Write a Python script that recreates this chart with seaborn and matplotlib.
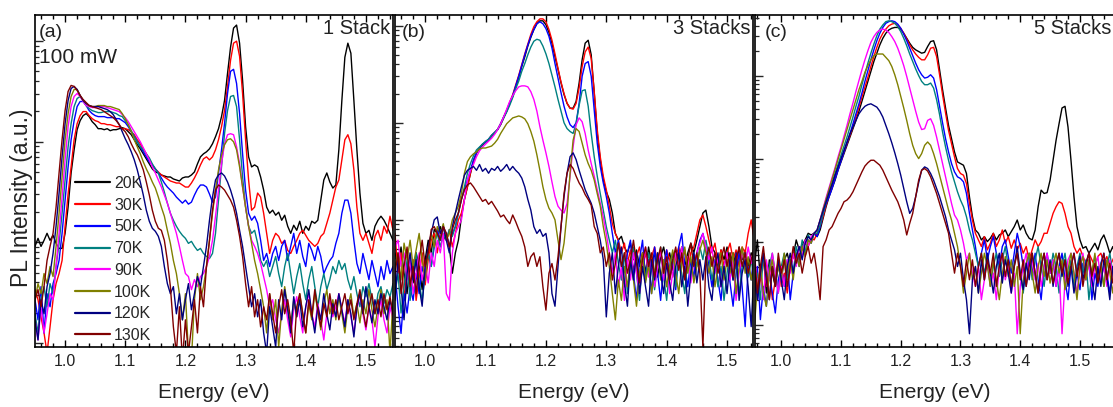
import numpy as np
import pandas as pd
import matplotlib
matplotlib.use("Agg")
import matplotlib.pyplot as plt
from matplotlib.ticker import LogLocator, NullFormatter, MultipleLocator, FormatStrFormatter
from matplotlib.lines import Line2D
import seaborn as sns

# photon energy grid (eV), shared by all spectra
energy = np.round(0.95 + 0.005 * np.arange(123), 3)

temps = ["20K", "30K", "50K", "70K", "90K", "100K", "120K", "130K"]
colors = ["#000000", "#ff0000", "#0000ff", "#008080", "#ff00ff", "#808000", "#000080", "#800000"]

# log10 PL intensity (a.u.) -- 1 stack
a_20K = [1.00,1.08,1.00,1.06,1.13,1.06,1.11,1.03,0.98,0.98,
         1.13,1.39,1.73,1.96,2.16,2.25,2.30,2.32,2.29,2.24,
         2.21,2.17,2.17,2.16,2.17,2.15,2.16,2.16,2.17,2.18,
         2.17,2.14,2.11,2.06,2.01,1.97,1.92,1.87,1.82,1.77,
         1.74,1.73,1.71,1.70,1.69,1.69,1.67,1.66,1.65,1.68,
         1.69,1.69,1.71,1.74,1.82,1.89,1.92,1.94,1.97,2.02,
         2.09,2.17,2.29,2.45,2.72,2.98,3.17,3.20,3.02,2.65,
         2.19,1.89,1.79,1.81,1.79,1.69,1.56,1.39,1.33,1.36,
         1.31,1.34,1.26,1.31,1.20,1.13,1.21,1.16,1.25,1.13,
         1.20,1.16,1.25,1.23,1.26,1.46,1.66,1.73,1.64,1.58,
         1.61,1.96,2.45,2.88,3.02,2.92,2.45,1.96,1.53,1.23,
         1.13,1.16,1.06,1.20,1.26,1.30,1.26,1.20,1.13,1.06,
         1.03,1.00,1.06]
a_30K = [0.57,0.47,0.30,0.14,-0.06,0.20,0.47,0.63,0.73,0.86,
         1.20,1.52,1.79,2.06,2.22,2.30,2.34,2.34,2.30,2.27,
         2.25,2.24,2.22,2.22,2.21,2.21,2.20,2.19,2.19,2.17,
         2.17,2.16,2.14,2.11,2.06,2.02,1.97,1.92,1.86,1.81,
         1.77,1.74,1.71,1.69,1.67,1.65,1.64,1.63,1.63,1.61,
         1.59,1.59,1.63,1.68,1.74,1.81,1.87,1.89,1.86,1.89,
         1.96,2.06,2.19,2.35,2.59,2.85,3.02,3.04,2.89,2.52,
         2.06,1.66,1.36,1.39,1.53,1.49,1.33,1.13,0.93,1.06,
         1.13,1.10,1.03,1.06,0.96,0.93,1.00,1.06,1.13,1.16,
         1.11,1.06,1.03,1.00,1.03,1.10,1.13,1.23,1.33,1.46,
         1.59,1.66,1.86,2.06,2.11,2.02,1.76,1.39,1.13,1.06,
         1.13,1.03,0.93,1.10,1.16,1.06,1.20,1.13,1.30,1.16,
         1.23,1.13,1.16]
a_50K = [0.47,0.27,0.60,0.14,0.53,0.40,0.63,0.73,0.86,1.13,
         1.46,1.79,2.06,2.25,2.39,2.44,2.44,2.40,2.35,2.32,
         2.30,2.29,2.29,2.29,2.28,2.28,2.28,2.27,2.27,2.25,
         2.23,2.19,2.14,2.09,2.04,1.99,1.94,1.89,1.84,1.81,
         1.77,1.73,1.68,1.63,1.59,1.56,1.53,1.49,1.46,1.43,
         1.46,1.42,1.44,1.51,1.57,1.61,1.61,1.59,1.52,1.44,
         1.49,1.73,1.96,2.22,2.52,2.74,2.76,2.62,2.32,1.92,
         1.56,1.33,1.26,1.30,1.23,1.06,0.86,0.93,0.80,0.93,
         1.00,0.86,1.00,1.06,0.86,1.00,1.13,0.93,1.06,0.90,
         0.80,1.03,0.96,0.86,1.00,0.90,0.73,0.80,0.86,0.90,
         1.03,1.13,1.33,1.46,1.46,1.33,1.06,0.83,0.73,0.93,
         0.80,0.67,0.86,0.73,0.60,0.80,0.67,0.86,0.73,0.80,
         0.67,0.83,0.73]
a_70K = [0.33,0.14,0.47,0.60,0.40,0.63,0.53,0.80,1.03,1.33,
         1.66,1.99,2.22,2.39,2.47,2.49,2.45,2.40,2.37,2.35,
         2.34,2.33,2.33,2.34,2.34,2.34,2.33,2.32,2.30,2.29,
         2.25,2.21,2.15,2.09,2.04,1.99,1.96,1.92,1.88,1.82,
         1.77,1.73,1.64,1.54,1.43,1.33,1.26,1.20,1.15,1.11,
         1.08,1.03,1.05,1.00,0.96,0.98,0.93,0.90,0.88,0.93,
         1.13,1.46,1.79,2.12,2.35,2.49,2.50,2.39,2.06,1.69,
         1.39,1.20,1.13,1.16,1.03,0.86,0.80,0.86,0.70,0.80,
         0.90,0.73,0.60,0.80,0.93,0.73,0.53,0.70,0.83,0.63,
         0.47,0.67,0.80,0.60,0.40,0.60,0.73,0.57,0.67,0.80,
         0.73,0.86,0.77,0.83,0.67,0.57,0.70,0.53,0.40,0.60,
         0.50,0.63,0.47,0.33,0.53,0.60,0.43,0.57,0.50,0.63,
         0.53,0.60,0.47]
a_90K = [0.27,0.07,0.40,0.14,0.33,0.53,0.47,0.80,1.13,1.49,
         1.86,2.19,2.39,2.49,2.52,2.49,2.44,2.40,2.39,2.38,
         2.38,2.39,2.39,2.39,2.38,2.37,2.36,2.35,2.34,2.31,
         2.28,2.24,2.19,2.14,2.09,2.04,1.98,1.92,1.86,1.79,
         1.73,1.66,1.59,1.51,1.43,1.33,1.23,1.13,1.00,0.86,
         0.73,0.70,0.57,0.67,0.60,0.70,0.73,0.80,0.90,1.06,
         1.30,1.56,1.82,2.02,2.11,2.12,2.11,1.99,1.82,1.59,
         1.39,1.20,1.06,1.00,0.93,0.83,0.70,0.57,0.40,0.47,
         0.27,0.14,0.33,0.47,0.27,0.10,0.37,0.50,0.30,0.14,
         0.40,0.53,0.33,0.20,0.43,0.27,0.07,0.33,0.47,0.30,
         0.40,0.53,0.37,0.24,0.47,0.30,0.14,0.37,0.53,0.33,
         0.17,0.40,0.27,0.00,0.30,0.47,0.27,0.14,0.40,0.27,
         0.33,0.47,0.20]
a_100K = [0.47,0.63,0.53,0.73,0.63,0.80,0.70,1.00,1.33,1.69,
          2.06,2.32,2.49,2.56,2.56,2.50,2.45,2.42,2.40,2.39,
          2.39,2.40,2.40,2.40,2.39,2.39,2.38,2.37,2.36,2.32,
          2.27,2.21,2.14,2.06,1.99,1.92,1.84,1.77,1.71,1.64,
          1.58,1.49,1.39,1.30,1.16,1.03,0.86,0.73,0.53,0.27,
          0.53,-0.06,-0.13,0.47,0.73,0.47,0.60,0.80,1.06,1.33,
          1.56,1.76,1.91,2.01,2.06,2.07,2.04,1.96,1.79,1.59,
          1.39,1.20,1.03,0.86,0.73,0.57,0.40,0.14,0.53,0.27,
          0.47,0.00,0.37,0.60,0.40,0.20,0.47,0.30,0.53,0.33,
          0.14,0.43,0.27,0.53,0.37,0.17,0.43,0.57,0.33,0.47,
          0.27,0.50,0.33,0.14,0.40,0.53,0.30,0.43,0.24,0.47,
          0.33,0.57,0.37,0.20,0.40,0.57,0.33,0.47,-0.06,0.47,
          0.33,0.53,0.40]
a_120K = [0.27,0.07,0.47,0.33,0.60,0.73,0.93,1.20,1.53,1.89,
          2.22,2.45,2.57,2.59,2.56,2.50,2.45,2.42,2.40,2.39,
          2.39,2.39,2.38,2.37,2.36,2.34,2.31,2.26,2.21,2.14,
          2.07,2.01,1.94,1.86,1.76,1.64,1.51,1.36,1.25,1.18,
          1.15,1.10,1.00,0.80,0.63,0.53,0.60,0.33,0.53,0.27,
          0.47,0.63,0.37,0.53,0.70,0.60,0.80,1.00,1.26,1.49,
          1.66,1.71,1.73,1.70,1.64,1.56,1.46,1.33,1.16,1.00,
          0.80,0.60,0.40,0.53,0.30,0.47,0.14,-0.06,0.40,0.20,
          0.00,0.47,0.27,0.57,0.37,0.14,0.50,0.30,0.47,0.20,
          0.40,0.57,0.33,0.14,0.40,0.27,0.53,0.33,0.17,0.43,
          0.30,0.53,0.37,0.20,0.47,0.33,0.10,0.40,0.53,0.33,
          0.60,0.40,0.24,0.47,0.33,0.53,0.40,0.27,0.47,0.33,
          0.47,0.30,0.40]
a_130K = [0.47,0.57,0.40,0.60,0.86,1.00,1.13,1.39,1.73,2.06,
          2.35,2.54,2.60,2.59,2.55,2.50,2.46,2.43,2.40,2.39,
          2.38,2.37,2.36,2.34,2.32,2.30,2.28,2.25,2.21,2.17,
          2.14,2.09,2.02,1.96,1.91,1.84,1.76,1.64,1.51,1.36,
          1.25,1.18,1.16,1.06,0.86,0.60,0.20,-0.06,0.40,-0.13,
          0.27,-0.06,0.20,0.47,0.14,0.60,0.40,0.80,1.06,1.36,
          1.56,1.61,1.59,1.56,1.51,1.46,1.39,1.26,1.10,0.90,
          0.63,0.40,0.60,0.30,0.47,0.20,0.40,0.27,0.53,0.33,
          0.14,0.40,0.57,0.33,0.47,0.27,-0.06,0.40,0.53,0.33,
          0.14,0.47,0.30,0.57,0.37,0.20,0.43,0.30,0.53,0.33,
          0.47,0.27,0.40,0.53,0.33,0.47,0.27,0.43,0.57,0.37,
          0.20,0.40,0.53,0.33,0.47,0.30,0.53,0.37,0.50,0.33,
          0.43,0.30,0.47]

# log10 PL intensity (a.u.) -- 3 stacks
b_20K = [0.97,0.83,1.03,0.76,0.55,0.86,0.66,0.97,0.83,0.59,
         0.90,1.10,0.97,1.21,1.17,1.24,1.10,1.17,1.03,0.76,
         0.97,1.10,1.34,1.52,1.65,1.79,1.91,2.00,2.05,2.08,
         2.11,2.13,2.17,2.20,2.24,2.29,2.36,2.43,2.51,2.58,
         2.68,2.78,2.89,2.99,3.10,3.19,3.27,3.33,3.36,3.36,
         3.32,3.24,3.13,2.99,2.86,2.72,2.60,2.51,2.46,2.46,
         2.53,2.72,2.96,3.13,3.16,3.01,2.62,2.20,1.93,1.72,
         1.60,1.52,1.38,1.17,1.10,1.14,1.03,0.97,1.07,0.90,
         1.00,0.83,0.97,0.76,1.03,0.86,0.97,0.72,0.93,1.03,
         0.86,0.97,0.79,1.00,0.90,1.03,0.83,0.97,1.07,0.97,
         1.10,1.24,1.38,1.41,1.24,1.03,0.97,0.83,1.00,0.90,
         1.03,0.86,0.97,0.83,1.03,0.90,1.00,0.83,0.97,0.90,
         1.03,0.86,0.97]
b_30K = [1.17,0.76,0.97,0.48,0.83,0.64,0.90,0.48,0.72,0.97,
         0.64,0.90,1.10,1.17,0.97,1.17,1.24,1.10,1.21,1.03,
         1.17,1.31,1.38,1.52,1.65,1.79,1.91,2.00,2.05,2.09,
         2.11,2.14,2.18,2.21,2.24,2.30,2.37,2.44,2.52,2.60,
         2.70,2.80,2.91,3.02,3.12,3.22,3.30,3.35,3.38,3.38,
         3.35,3.27,3.16,3.02,2.87,2.73,2.61,2.51,2.46,2.45,
         2.51,2.67,2.89,3.04,3.09,2.97,2.63,2.24,1.96,1.76,
         1.62,1.45,1.27,1.17,1.10,0.97,1.07,0.86,1.00,0.79,
         0.93,1.03,0.83,0.97,0.76,0.93,1.03,0.86,0.97,0.83,
         1.00,0.90,0.72,0.93,1.03,0.86,1.00,0.79,0.97,1.03,
         1.17,1.31,1.36,1.24,1.10,0.97,1.07,0.86,1.00,0.83,
         0.97,1.07,0.90,1.00,0.83,1.03,0.97,1.17,1.31,1.10,
         1.24,1.03,1.17]
b_50K = [0.76,0.42,0.14,0.55,0.35,0.62,0.48,0.76,0.55,0.83,
         0.69,0.97,0.83,1.03,1.21,1.10,1.24,1.17,1.03,1.17,
         1.24,1.38,1.52,1.62,1.72,1.82,1.93,2.00,2.05,2.09,
         2.11,2.14,2.18,2.21,2.24,2.30,2.37,2.43,2.51,2.59,
         2.69,2.79,2.90,3.01,3.11,3.20,3.27,3.33,3.35,3.33,
         3.28,3.20,3.08,2.92,2.77,2.62,2.48,2.37,2.29,2.26,
         2.31,2.51,2.79,2.92,2.94,2.79,2.44,2.10,1.86,1.69,
         1.55,1.38,1.17,0.97,1.10,0.83,0.62,0.97,1.10,0.76,
         0.48,0.90,1.10,0.69,0.90,0.55,1.03,0.76,0.48,0.83,
         1.00,0.69,0.90,0.59,1.03,1.17,0.83,0.62,0.90,0.72,
         0.97,1.10,1.17,1.03,0.83,0.62,0.90,0.69,0.48,0.83,
         0.97,0.66,0.42,0.76,0.97,0.62,0.21,0.83,0.69,0.97,
         0.76,0.55,0.83]
b_70K = [0.55,0.76,0.35,0.62,0.90,0.48,0.76,0.97,0.66,0.48,
         0.76,0.97,0.83,1.07,1.17,1.03,1.17,1.10,1.21,1.14,
         1.24,1.38,1.52,1.65,1.79,1.89,1.97,2.03,2.06,2.09,
         2.12,2.14,2.18,2.21,2.24,2.30,2.36,2.42,2.49,2.57,
         2.66,2.74,2.84,2.92,3.01,3.09,3.15,3.17,3.16,3.10,
         3.02,2.92,2.80,2.68,2.55,2.43,2.31,2.25,2.22,2.20,
         2.30,2.49,2.64,2.65,2.48,2.20,1.96,1.76,1.58,1.41,
         1.24,1.10,0.97,1.10,0.86,0.69,0.97,0.55,0.83,1.03,
         0.76,0.48,0.90,0.69,0.97,0.79,0.59,0.86,1.03,0.72,
         0.48,0.83,0.97,0.62,0.90,0.76,0.55,0.93,0.72,0.97,
         0.83,1.03,0.90,1.10,0.93,0.69,0.86,0.62,0.83,0.48,
         0.76,0.97,0.69,0.86,0.55,0.83,0.97,0.72,0.90,0.69,
         0.83,0.97,0.76]
b_90K = [1.03,1.10,0.83,0.97,0.69,0.90,0.55,0.76,0.97,0.69,
         0.86,0.66,0.97,0.83,1.10,0.97,1.17,0.55,0.48,0.97,
         1.17,1.24,1.31,1.52,1.72,1.82,1.88,1.96,2.02,2.06,
         2.09,2.12,2.15,2.19,2.24,2.30,2.37,2.45,2.53,2.59,
         2.64,2.68,2.69,2.69,2.68,2.63,2.55,2.43,2.27,2.13,
         2.00,1.86,1.70,1.55,1.45,1.41,1.38,1.48,1.76,2.06,
         2.29,2.36,2.32,2.20,2.03,1.89,1.76,1.62,1.48,1.34,
         1.17,0.97,0.76,0.97,0.62,0.83,0.48,0.90,0.69,0.97,
         0.76,0.55,0.86,1.03,0.72,0.90,0.62,0.83,1.00,0.69,
         0.90,0.55,0.76,0.97,0.83,1.03,0.72,0.93,0.66,0.86,
         0.97,1.07,1.17,1.03,0.90,1.03,0.76,0.93,0.62,0.83,
         0.97,0.69,0.90,0.48,0.76,0.97,0.83,1.03,0.86,0.97,
         0.76,0.90,0.69]
b_100K = [0.83,0.97,0.69,1.07,0.90,1.10,0.83,1.00,1.17,0.90,
          0.69,0.97,1.17,1.03,1.24,1.17,1.27,1.10,1.17,1.31,
          1.38,1.45,1.58,1.79,1.91,1.96,1.99,2.01,2.04,2.05,
          2.05,2.06,2.07,2.10,2.14,2.20,2.25,2.30,2.33,2.36,
          2.37,2.38,2.37,2.35,2.30,2.22,2.12,1.98,1.82,1.65,
          1.52,1.43,1.38,1.31,1.10,0.90,1.07,1.38,1.79,2.13,
          2.25,2.22,2.10,1.98,1.89,1.82,1.72,1.58,1.45,1.24,
          1.07,0.83,0.55,0.28,0.69,0.48,0.83,0.62,0.90,0.69,
          0.42,0.76,0.97,0.66,0.86,0.55,0.79,0.97,0.69,0.90,
          0.62,0.83,1.00,0.76,0.55,0.86,1.03,0.76,0.93,0.66,
          0.83,1.00,1.10,0.97,0.76,0.93,0.62,0.83,0.97,0.69,
          0.90,0.76,0.97,0.55,0.83,1.03,0.76,0.93,0.69,0.86,
          0.97,0.79,0.90]
b_120K = [0.48,0.90,0.62,0.28,0.76,0.97,0.69,0.90,0.62,0.42,
          0.83,1.03,1.17,1.31,1.34,1.17,1.24,1.10,0.97,1.24,
          1.38,1.52,1.65,1.77,1.82,1.84,1.86,1.82,1.88,1.81,
          1.84,1.79,1.84,1.82,1.86,1.81,1.84,1.88,1.82,1.86,
          1.82,1.79,1.74,1.65,1.52,1.41,1.24,1.17,1.21,1.14,
          1.17,0.97,0.55,0.42,0.83,1.24,1.55,1.79,1.96,2.00,
          1.93,1.82,1.72,1.62,1.55,1.48,1.38,1.24,1.10,0.90,
          0.31,0.76,0.97,0.55,0.83,1.03,0.66,0.42,0.90,0.69,
          0.97,0.55,0.83,0.62,0.42,0.90,0.69,0.97,0.76,0.55,
          0.86,0.66,0.48,0.83,0.97,0.62,0.83,0.42,0.76,0.97,
          0.66,0.90,0.69,0.93,0.62,0.48,0.83,0.97,0.62,0.83,
          0.55,0.90,0.69,0.97,0.48,0.76,0.90,0.62,0.21,0.83,
          0.62,0.90,0.69]
b_130K = [0.76,0.97,0.55,0.83,1.03,0.62,0.83,0.55,0.90,1.10,
          0.83,0.97,1.21,1.24,1.17,1.10,1.24,1.17,1.03,1.21,
          1.31,1.38,1.52,1.62,1.67,1.69,1.65,1.60,1.55,1.50,
          1.52,1.47,1.50,1.45,1.40,1.34,1.36,1.31,1.27,1.36,
          1.29,1.21,1.14,1.03,0.83,0.93,0.97,0.83,0.93,0.62,
          0.38,0.76,0.86,0.69,0.93,1.24,1.58,1.79,1.88,1.84,
          1.76,1.69,1.64,1.57,1.52,1.46,1.24,1.17,0.97,1.03,
          0.83,0.97,0.69,0.86,1.07,0.83,0.97,0.76,0.90,1.10,
          0.86,0.66,0.90,1.03,0.83,0.97,0.72,0.90,1.03,0.76,
          0.93,0.69,0.90,1.03,0.79,0.97,0.69,0.90,1.07,0.83,
          0.97,0.76,0.00,0.90,1.03,0.83,0.97,0.76,0.90,1.03,
          0.83,0.97,0.72,0.90,1.03,0.83,0.97,0.76,0.90,1.03,
          0.83,0.97,0.76]

# log10 PL intensity (a.u.) -- 5 stacks
c_20K = [1.13,0.97,1.29,0.81,1.13,0.65,1.05,0.89,0.73,1.01,
         0.81,1.05,1.13,0.97,1.09,1.29,1.17,1.23,1.29,1.37,
         1.35,1.37,1.33,1.41,1.55,1.69,1.81,1.91,2.01,2.13,
         2.23,2.33,2.43,2.53,2.63,2.73,2.84,2.96,3.08,3.20,
         3.32,3.44,3.54,3.64,3.72,3.78,3.82,3.84,3.85,3.85,
         3.83,3.78,3.72,3.66,3.61,3.58,3.56,3.54,3.55,3.62,
         3.68,3.69,3.58,3.34,3.10,2.88,2.67,2.51,2.35,2.23,
         2.21,2.19,2.09,1.81,1.57,1.41,1.37,1.29,1.33,1.27,
         1.31,1.37,1.29,1.35,1.37,1.41,1.33,1.39,1.45,1.53,
         1.41,1.47,1.37,1.31,1.29,1.41,1.69,1.89,1.85,1.86,
         2.01,2.25,2.49,2.69,2.88,2.90,2.65,2.25,1.81,1.45,
         1.29,1.19,1.21,1.13,1.19,1.25,1.17,1.29,1.35,1.25,
         1.13,1.21,1.09]
c_30K = [0.65,0.89,0.57,0.81,1.05,0.73,0.97,0.57,0.81,1.05,
         0.73,0.89,0.65,0.97,1.09,1.13,1.05,1.17,1.25,1.21,
         1.31,1.29,1.37,1.45,1.57,1.71,1.83,1.94,2.04,2.15,
         2.25,2.35,2.45,2.55,2.65,2.77,2.89,3.01,3.13,3.25,
         3.38,3.50,3.61,3.71,3.78,3.83,3.87,3.89,3.90,3.88,
         3.84,3.78,3.71,3.64,3.58,3.53,3.49,3.46,3.46,3.52,
         3.60,3.61,3.50,3.28,3.04,2.82,2.61,2.45,2.29,2.15,
         2.09,2.07,1.97,1.73,1.53,1.37,1.29,1.21,1.33,1.17,
         1.25,1.37,1.21,1.29,1.41,1.25,1.33,1.19,1.29,1.17,
         1.25,1.13,1.21,1.05,1.17,1.29,1.21,1.27,1.37,1.37,
         1.49,1.61,1.69,1.75,1.73,1.61,1.45,1.37,1.21,1.13,
         1.19,1.09,1.01,1.13,1.05,0.97,1.09,1.13,1.01,1.09,
         0.97,1.05,1.13]
c_50K = [0.81,0.57,0.97,0.33,0.73,0.49,0.89,0.65,0.41,0.81,
         0.97,0.73,1.05,0.57,0.89,1.13,0.97,1.21,1.13,1.29,
         1.25,1.37,1.33,1.45,1.61,1.73,1.81,1.91,2.02,2.13,
         2.24,2.35,2.46,2.57,2.69,2.81,2.93,3.06,3.20,3.33,
         3.46,3.58,3.69,3.78,3.85,3.90,3.92,3.93,3.92,3.89,
         3.84,3.77,3.69,3.60,3.51,3.42,3.34,3.28,3.24,3.25,
         3.28,3.24,3.10,2.90,2.70,2.51,2.35,2.21,2.11,2.05,
         2.03,1.99,1.85,1.61,1.41,1.21,0.97,1.13,1.29,1.05,
         1.21,1.33,1.13,0.97,1.21,1.29,1.09,0.89,1.13,1.37,
         1.21,0.97,0.73,1.05,0.89,1.13,0.81,0.57,0.97,1.13,
         0.89,1.05,0.73,0.97,1.13,0.81,0.57,0.97,1.13,0.89,
         0.69,1.01,0.81,1.05,0.57,0.89,0.73,1.01,1.13,0.89,
         0.65,0.97,0.81]
c_70K = [1.05,0.73,0.89,0.57,1.13,0.81,0.97,1.13,0.89,0.65,
         0.97,1.13,0.81,1.05,0.89,1.21,1.05,1.29,1.13,1.35,
         1.29,1.37,1.37,1.47,1.61,1.75,1.87,1.98,2.09,2.20,
         2.31,2.42,2.53,2.65,2.77,2.90,3.02,3.16,3.29,3.42,
         3.54,3.65,3.75,3.83,3.88,3.92,3.93,3.92,3.90,3.86,
         3.80,3.72,3.63,3.53,3.44,3.35,3.27,3.20,3.16,3.16,
         3.18,3.12,2.98,2.80,2.59,2.41,2.25,2.11,1.99,1.87,
         1.77,1.69,1.57,1.41,1.29,1.13,0.97,1.13,0.89,1.05,
         0.73,0.97,1.13,0.85,1.05,1.21,0.97,0.73,1.01,1.13,
         0.89,0.65,0.97,1.13,0.81,1.05,1.21,0.97,0.73,1.05,
         0.89,1.13,0.97,0.65,0.97,1.13,0.85,1.05,0.73,0.97,
         1.13,0.89,1.05,0.57,0.89,1.09,0.85,1.01,0.73,0.97,
         1.13,0.89,1.05]
c_90K = [0.89,1.13,0.73,0.97,0.57,1.05,0.81,1.13,0.89,0.65,
         0.97,0.73,1.05,0.89,1.13,0.97,1.21,1.09,1.29,1.21,
         1.33,1.37,1.41,1.53,1.67,1.80,1.92,2.04,2.16,2.29,
         2.41,2.54,2.67,2.81,2.94,3.08,3.21,3.34,3.46,3.57,
         3.67,3.74,3.79,3.82,3.83,3.82,3.79,3.74,3.68,3.60,
         3.50,3.39,3.26,3.12,2.98,2.84,2.71,2.62,2.63,2.73,
         2.75,2.67,2.53,2.37,2.21,2.05,1.89,1.73,1.59,1.53,
         1.41,1.25,1.05,1.13,0.89,0.73,0.97,0.57,0.81,1.05,
         0.73,0.89,0.57,0.97,1.13,0.81,0.97,0.65,0.89,0.16,
         0.73,0.97,1.13,0.85,1.05,0.81,1.01,0.73,0.97,1.13,
         0.89,1.05,0.73,0.97,0.16,0.81,1.05,1.13,0.89,0.65,
         0.97,1.13,0.81,1.01,0.73,0.97,1.09,0.81,0.97,0.73,
         1.05,0.89,0.97]
c_100K = [0.57,0.25,0.73,0.97,0.65,0.49,0.89,1.05,0.73,0.97,
          0.81,1.13,0.89,1.05,0.81,1.13,0.97,1.21,1.09,1.29,
          1.25,1.37,1.41,1.53,1.66,1.78,1.90,2.02,2.14,2.26,
          2.38,2.50,2.62,2.74,2.86,2.98,3.10,3.20,3.31,3.39,
          3.46,3.51,3.53,3.53,3.53,3.49,3.45,3.38,3.28,3.16,
          3.02,2.88,2.73,2.57,2.43,2.33,2.27,2.33,2.43,2.47,
          2.43,2.33,2.21,2.07,1.93,1.79,1.65,1.53,1.37,1.21,
          0.97,0.65,0.89,1.13,0.81,0.97,0.65,0.89,1.13,0.97,
          0.73,1.05,0.81,0.57,0.89,1.09,0.85,1.05,0.73,0.97,
          0.16,0.81,1.01,1.13,0.89,0.65,0.97,1.13,0.85,1.05,
          0.77,0.97,1.13,0.89,1.05,0.69,0.93,1.13,0.89,0.57,
          0.97,1.09,0.81,1.05,0.89,1.13,0.81,0.97,0.73,1.05,
          0.89,0.65,0.97]
c_120K = [0.73,0.97,0.57,0.89,1.13,0.81,0.57,0.97,0.73,1.05,
          0.81,0.57,0.97,1.13,0.89,1.09,1.21,1.05,1.25,1.33,
          1.29,1.37,1.41,1.53,1.64,1.75,1.86,1.96,2.07,2.17,
          2.27,2.37,2.47,2.57,2.65,2.73,2.81,2.86,2.90,2.92,
          2.93,2.91,2.89,2.84,2.77,2.67,2.57,2.46,2.34,2.21,
          2.07,1.91,1.75,1.61,1.67,1.81,1.98,2.13,2.17,2.15,
          2.09,2.01,1.91,1.81,1.69,1.57,1.41,1.29,1.17,0.97,
          1.13,0.81,0.57,0.16,0.81,0.97,0.65,1.05,0.81,1.13,
          0.89,0.65,0.97,1.13,0.77,1.05,0.89,0.65,0.97,1.21,
          0.89,0.69,1.01,0.81,1.13,0.89,0.65,0.97,1.13,0.81,
          1.05,0.73,0.97,1.13,0.85,1.05,0.73,0.97,0.65,0.89,
          1.09,0.81,1.01,1.13,0.81,0.57,0.97,0.73,1.05,0.85,
          0.57,0.97,0.73]
c_130K = [0.89,1.13,0.65,0.97,1.21,0.89,0.57,0.97,0.73,1.13,
          0.89,1.05,0.73,0.97,1.21,1.01,1.13,0.89,1.09,1.21,
          1.01,1.13,0.89,0.57,1.21,1.29,1.41,1.45,1.53,1.61,
          1.67,1.75,1.77,1.81,1.87,1.95,2.03,2.11,2.18,2.22,
          2.25,2.25,2.22,2.19,2.13,2.05,1.97,1.89,1.82,1.75,
          1.65,1.53,1.35,1.49,1.61,1.81,2.01,2.13,2.15,2.12,
          2.05,1.95,1.85,1.73,1.61,1.49,1.37,1.13,0.89,1.13,
          0.97,0.73,1.05,0.81,1.05,0.73,0.97,1.13,0.81,1.05,
          0.89,1.13,0.73,0.97,1.13,0.85,1.05,0.73,0.97,1.13,
          0.81,1.05,0.73,0.97,1.13,0.89,0.65,0.97,1.13,0.81,
          1.01,0.77,0.97,1.13,0.89,1.05,0.77,0.97,1.13,0.85,
          1.05,0.73,0.97,1.13,0.85,1.01,0.77,0.97,1.13,0.81,
          1.01,0.77,0.97]

panels = [
    dict(tag="(a)", name="1 Stack", spectra=[a_20K, a_30K, a_50K, a_70K, a_90K, a_100K, a_120K, a_130K],
         floor=-0.04, span=3.30, xlim=(0.95, 1.545), px=(35, 393), tagx=0.010),
    dict(tag="(b)", name="3 Stacks", spectra=[b_20K, b_30K, b_50K, b_70K, b_90K, b_100K, b_120K, b_130K],
         floor=-0.31, span=3.42, xlim=(0.95, 1.543), px=(395, 753), tagx=0.020),
    dict(tag="(c)", name="5 Stacks", spectra=[c_20K, c_30K, c_50K, c_70K, c_90K, c_100K, c_120K, c_130K],
         floor=-0.265, span=4.00, xlim=(0.956, 1.557), px=(755, 1114), tagx=0.026),
]

sns.set_theme(style="ticks")
plt.rcParams["font.family"] = ["Liberation Sans", "DejaVu Sans"]

W, H = 1113, 407
top_px, bot_px = 15, 347
fig = plt.figure(figsize=(W / 100, H / 100), dpi=100)
fig.patch.set_facecolor("white")

axes = []
for k, p in enumerate(panels):
    l, r = p["px"]
    ax = fig.add_axes([l / W, 1 - bot_px / H, (r - l) / W, (bot_px - top_px) / H])
    axes.append(ax)
    for spec in p["spectra"]:
        assert len(spec) == len(energy)
    df = pd.DataFrame({
        "Energy": np.tile(energy, len(temps)),
        "PL": np.power(10.0, p["floor"] + np.concatenate([np.asarray(s, float) for s in p["spectra"]])),
        "T": np.repeat(temps, len(energy)),
    })
    sns.lineplot(data=df, x="Energy", y="PL", hue="T", hue_order=temps, palette=colors,
                 estimator=None, sort=False, lw=1.0, legend=False, ax=ax)
    ax.set_yscale("log")
    ax.set_xlim(*p["xlim"])
    ax.set_ylim(10 ** p["floor"], 10 ** (p["floor"] + p["span"]))

    ax.xaxis.set_major_locator(MultipleLocator(0.1))
    ax.xaxis.set_minor_locator(MultipleLocator(0.02))
    ax.xaxis.set_major_formatter(FormatStrFormatter("%.1f"))
    ax.yaxis.set_major_locator(LogLocator(base=10, numticks=10))
    ax.yaxis.set_minor_locator(LogLocator(base=10, subs=np.arange(2, 10) * 1.0, numticks=40))
    ax.yaxis.set_major_formatter(NullFormatter())
    ax.yaxis.set_minor_formatter(NullFormatter())
    ax.tick_params(axis="x", which="both", direction="in", top=True, bottom=True,
                   labelsize=11.5, pad=5, color="black", labelcolor="#222222")
    ax.tick_params(axis="x", which="major", length=5, width=1)
    ax.tick_params(axis="x", which="minor", length=3, width=1)
    ax.tick_params(axis="y", which="both", direction="in", left=True, right=False, labelleft=False)
    ax.tick_params(axis="y", which="major", length=6, width=1)
    ax.tick_params(axis="y", which="minor", length=3, width=0.9)
    for side, sp in ax.spines.items():
        sp.set_color("black")
        sp.set_linewidth(1.2)
    if k == 2:
        ax.spines["right"].set_visible(False)

    ax.set_xlabel("Energy (eV)", fontsize=15, labelpad=10, color="#222222")
    ax.set_ylabel("")
    ax.text(p["tagx"], 0.948, p["tag"], transform=ax.transAxes,
            ha="left", va="center", fontsize=14, color="#222222")
    ax.text(0.992, 0.958, p["name"], transform=ax.transAxes, ha="right", va="center",
            fontsize=14.5, color="#222222")

axes[0].set_ylabel("PL Intensity (a.u.)", fontsize=16.5, color="#222222")
axes[0].yaxis.set_label_coords(-0.006, 0.45)
axes[0].text(0.010, 0.872, "100 mW", transform=axes[0].transAxes, ha="left", va="center",
             fontsize=15, color="#222222")

handles = [Line2D([], [], color=c, lw=1.6) for c in colors]
axes[0].legend(handles, temps, loc="upper left", bbox_to_anchor=(0.112, 0.515), frameon=False,
               fontsize=11.5, handlelength=2.2, handletextpad=0.25, labelspacing=0.42,
               borderpad=0, borderaxespad=0)

fig.savefig("out.png", dpi=100, facecolor="white")
